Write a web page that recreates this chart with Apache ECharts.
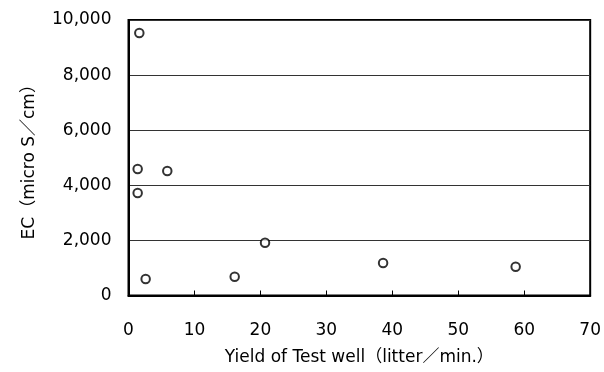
<!DOCTYPE html>
<html>
<head>
<meta charset="utf-8">
<script src="https://cdn.jsdelivr.net/npm/echarts@6/dist/echarts.min.js"></script>
<style>
html, body { margin: 0; padding: 0; background: #fff; }
#chart { width: 604px; height: 372px; }
</style>
</head>
<body>
<div id="chart"></div>
<script>
// yield (litter/min.) vs EC (micro S/cm) of test wells
var yieldValues = [1.64, 1.39, 1.39, 5.88, 2.6, 16.1, 20.7, 38.6, 58.7];
var ecValues = [9530, 4590, 3720, 4520, 600, 680, 1915, 1180, 1045];

var xTicks = [0, 10, 20, 30, 40, 50, 60, 70];
var yTicks = [0, 2000, 4000, 6000, 8000, 10000];

var font = "'DejaVu Sans', 'Noto Sans CJK JP'";

var points = [];
for (var i = 0; i < yieldValues.length; i++) {
    points.push([yieldValues[i], ecValues[i]]);
}

var chart = echarts.init(document.getElementById('chart'));
var op = {
    animation: false,
    backgroundColor: '#fff',
    grid: {
        left: 128.5,
        right: 13.5,
        top: 20,
        bottom: 76.5,
        show: true,
        borderColor: '#000',
        borderWidth: 2
    },
    xAxis: {
        type: 'value',
        min: xTicks[0],
        max: xTicks[xTicks.length - 1],
        interval: 10,
        name: 'Yield of Test well（litter／min.）',
        nameLocation: 'middle',
        nameGap: 54,
        nameTextStyle: { color: '#000', fontSize: 17, fontFamily: font },
        axisLine: { show: true, lineStyle: { color: '#000', width: 2 } },
        axisTick: { show: true, inside: true, length: 5, lineStyle: { color: '#000', width: 1 } },
        axisLabel: { color: '#000', fontSize: 17, fontFamily: font, margin: 27 },
        splitLine: { show: false }
    },
    yAxis: {
        type: 'value',
        min: yTicks[0],
        max: yTicks[yTicks.length - 1],
        interval: 2000,
        name: 'EC（micro S／cm）',
        nameLocation: 'middle',
        nameGap: 90,
        nameRotate: 90,
        nameTextStyle: { color: '#000', fontSize: 17, fontFamily: font },
        axisLine: { show: true, lineStyle: { color: '#000', width: 2 } },
        axisTick: { show: false },
        axisLabel: {
            color: '#000', fontSize: 17, fontFamily: font, margin: 17,
            formatter: function (v) { return v.toLocaleString('en-US'); }
        },
        splitLine: { show: true, lineStyle: { color: '#333', width: 1 } }
    },
    series: [{
        type: 'scatter',
        data: points,
        symbol: 'circle',
        symbolSize: 8.5,
        itemStyle: { color: '#fff', borderColor: '#000', borderWidth: 2 }
    }]
};
chart.setOption(op);
</script>
</body>
</html>
